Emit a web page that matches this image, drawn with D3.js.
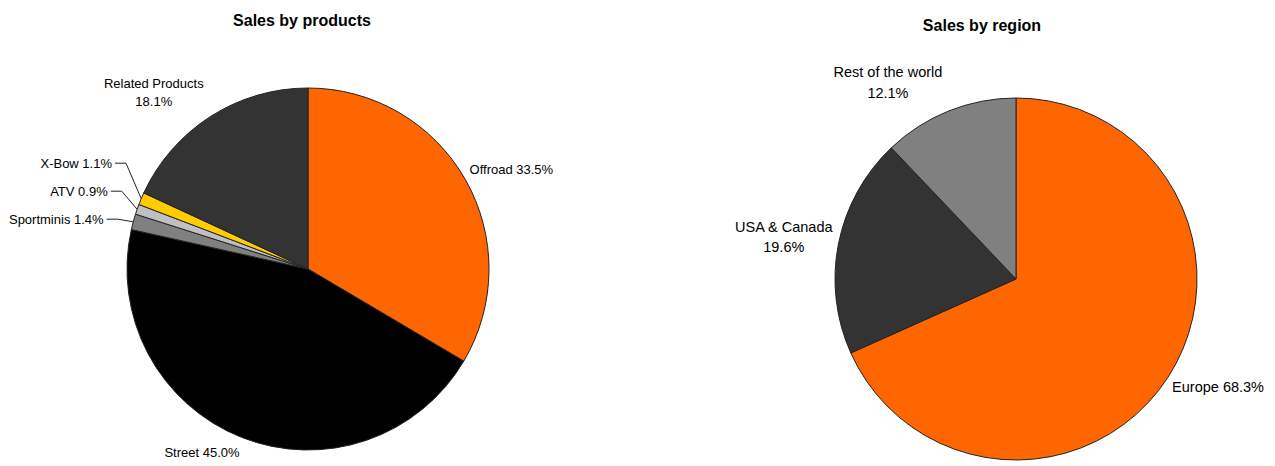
<!DOCTYPE html>
<html>
<head>
<meta charset="utf-8">
<script src="https://cdn.jsdelivr.net/npm/d3@7"></script>
<style>
  body { margin: 0; background: #fff; }
  text { font-family: "Liberation Sans", Arial, sans-serif; fill: #000; }
</style>
</head>
<body>
<div id="canvas"></div>
<script>
// Sales by products
const productNames = ["Offroad", "Street", "Sportminis", "ATV", "X-Bow", "Related Products"];
const productShares = [33.5, 45.0, 1.4, 0.9, 1.1, 18.1];
const productColors = ["#ff6600", "#000000", "#808080", "#c0c0c0", "#ffcc00", "#333333"];

// Sales by region
const regionNames = ["Europe", "USA & Canada", "Rest of the world"];
const regionShares = [68.3, 19.6, 12.1];
const regionColors = ["#ff6600", "#333333", "#808080"];

const width = 1275;
const height = 466;
const radius = 181;

const svg = d3.select("#canvas").append("svg")
    .attr("width", width)
    .attr("height", height);

const charts = [
    { title: "Sales by products", names: productNames, values: productShares, colors: productColors,
      cx: 308, cy: 269, titleX: 302, titleY: 26, fontSize: 13 },
    { title: "Sales by region", names: regionNames, values: regionShares, colors: regionColors,
      cx: 1016, cy: 279, titleX: 982, titleY: 31, fontSize: 14.5 }
];

charts.forEach(c => drawPie(c));

function drawPie(c) {
    const data = c.names.map((n, i) => ({ name: n, value: c.values[i], color: c.colors[i] }));
    const pie = d3.pie().sort(null).value(d => d.value);
    const arc = d3.arc().innerRadius(0).outerRadius(radius);
    const arcs = pie(data);
    const lh = c.fontSize * 1.4;

    svg.append("text")
        .attr("x", c.titleX)
        .attr("y", c.titleY)
        .attr("text-anchor", "middle")
        .style("font-weight", "bold")
        .style("font-size", "16px")
        .text(c.title);

    const g = svg.append("g").attr("transform", `translate(${c.cx},${c.cy})`);

    g.selectAll("path").data(arcs).enter().append("path")
        .attr("d", arc)
        .attr("fill", d => d.data.color)
        .attr("stroke", "#222")
        .attr("stroke-width", 1);

    const labels = arcs.map(a => {
        const mid = (a.startAngle + a.endAngle) / 2;
        const pct = a.data.value.toFixed(1) + "%";
        const lines = a.data.name.includes(" ") ? [a.data.name, pct] : [a.data.name + " " + pct];
        return { a, mid, s: Math.sin(mid), co: Math.cos(mid), small: a.data.value < 5, lines };
    });

    // big slices: label box next to the rim
    labels.filter(l => !l.small).forEach(l => {
        const r = radius + 5;
        const px = r * l.s + (l.lines.length > 1 ? 5 * Math.sign(l.s) * Math.abs(l.co) : 0);
        const py = -r * l.co;
        const h = l.lines.length * lh;
        const cy = py - l.co * (h / 2 + 4) - 1.5;
        const top = cy - h / 2;
        const t = g.append("g");
        const texts = l.lines.map((line, i) => t.append("text")
            .attr("y", top + i * lh + lh / 2 + c.fontSize * 0.36)
            .style("font-size", c.fontSize + "px")
            .text(line));
        const w = d3.max(texts, tx => tx.node().getComputedTextLength());
        const left = l.s < 0 ? px - w : px;
        texts.forEach(tx => tx.attr("x", left + w / 2).attr("text-anchor", "middle"));
    });

    // small slices: leader lines, pushed apart
    [-1, 1].forEach(side => {
        const group = labels.filter(l => l.small && Math.sign(l.s) === side)
            .map(l => ({ l, x0: (radius + 10) * l.s, y0: -(radius + 10) * l.co }))
            .sort((p, q) => q.y0 - p.y0);
        let prev = Infinity;
        group.forEach(p => {
            p.ya = Math.min(p.y0, prev - 28);
            prev = p.ya;
            const kx = p.x0 + side * 6;
            const endX = p.x0 + side * 17;
            g.append("path")
                .attr("d", d3.line()([[radius * p.l.s, -radius * p.l.co], [kx, p.ya], [endX, p.ya]]))
                .attr("fill", "none")
                .attr("stroke", "#222")
                .attr("stroke-width", 1);
            g.append("text")
                .attr("x", p.x0 + side * 20)
                .attr("y", p.ya + 4.5)
                .attr("text-anchor", side < 0 ? "end" : "start")
                .style("font-size", c.fontSize + "px")
                .text(p.l.lines.join(" "));
        });
    });
}
</script>
</body>
</html>
